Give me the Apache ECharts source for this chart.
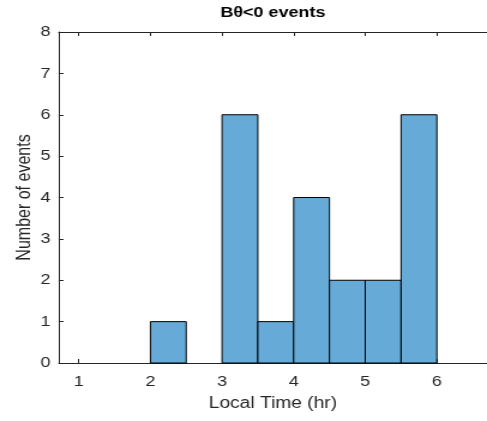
<!DOCTYPE html>
<html>
<head>
<meta charset="utf-8">
<script src="https://cdn.jsdelivr.net/npm/echarts@6/dist/echarts.min.js"></script>
<style>
html,body{margin:0;padding:0;background:#fff;overflow:hidden;width:487px;height:421px;}
#c{width:406px;height:421px;transform:scaleX(1.1995);transform-origin:0 0;}
</style>
</head>
<body>
<div id="c"></div>
<script>
const binStarts = [2, 3, 3.5, 4, 4.5, 5, 5.5];
const binEnds   = [2.5, 3.5, 4, 4.5, 5, 5.5, 6];
const counts    = [1, 6, 1, 4, 2, 2, 6];
const xTicks = [1, 2, 3, 4, 5, 6];
const yTicks = [0, 1, 2, 3, 4, 5, 6, 7, 8];
const titleText = 'B\u03b8<0 events';
const xName = 'Local Time (hr)';
const yName = 'Number of events';

const FONT = '"Liberation Sans", Arial, Helvetica, sans-serif';
const data = binStarts.map((s, i) => [s, binEnds[i], counts[i]]);
const chart = echarts.init(document.getElementById('c'), null, {renderer: 'canvas'});
chart.setOption({
  animation: false,
  grid: {left: 49, top: 28, right: 0, bottom: 58},
  xAxis: [{
    type: 'value', min: 0.72, max: 6.7, position: 'bottom',
    axisLine: {show: true, lineStyle: {color: '#262626', width: 1}},
    axisTick: {show: true, inside: true, length: 4, customValues: xTicks, lineStyle: {color: '#262626'}},
    axisLabel: {customValues: xTicks, color: '#262626', fontSize: 15, fontFamily: FONT, margin: 11},
    splitLine: {show: false},
    name: xName, nameLocation: 'middle', nameGap: 33, nameMoveOverlap: false,
    nameTextStyle: {color: '#262626', fontSize: 16, fontFamily: FONT}
  }, {
    type: 'value', min: 0.72, max: 6.7, position: 'top',
    axisLine: {show: true, onZero: false, lineStyle: {color: '#262626', width: 1}},
    axisTick: {show: true, inside: true, length: 4, customValues: xTicks, lineStyle: {color: '#262626'}},
    axisLabel: {show: false},
    splitLine: {show: false},
    name: titleText, nameLocation: 'middle', nameGap: 12, nameMoveOverlap: false,
    nameTextStyle: {color: '#000', fontSize: 15, fontWeight: 'bold', fontFamily: FONT}
  }],
  yAxis: [{
    type: 'value', min: 0, max: 8, interval: 1,
    axisLine: {show: true, lineStyle: {color: '#262626', width: 1}},
    axisTick: {show: true, inside: true, length: 4, lineStyle: {color: '#262626'}},
    axisLabel: {color: '#262626', fontSize: 15, fontFamily: FONT, margin: 7},
    splitLine: {show: false},
    name: yName, nameLocation: 'middle', nameGap: 20, nameRotate: 90, nameMoveOverlap: false,
    nameTextStyle: {color: '#262626', fontSize: 16, fontFamily: FONT}
  }],
  series: [{
    type: 'custom',
    xAxisIndex: 0, yAxisIndex: 0,
    data: data,
    encode: {x: [0, 1], y: 2},
    renderItem: function (params, api) {
      const p0 = api.coord([api.value(0), 0]);
      const p1 = api.coord([api.value(1), api.value(2)]);
      return {
        type: 'rect',
        shape: {x: p0[0], y: p1[1], width: p1[0] - p0[0], height: p0[1] - p1[1]},
        style: {fill: '#66aad7', stroke: '#000', lineWidth: 1}
      };
    }
  }]
});
</script>
</body>
</html>
